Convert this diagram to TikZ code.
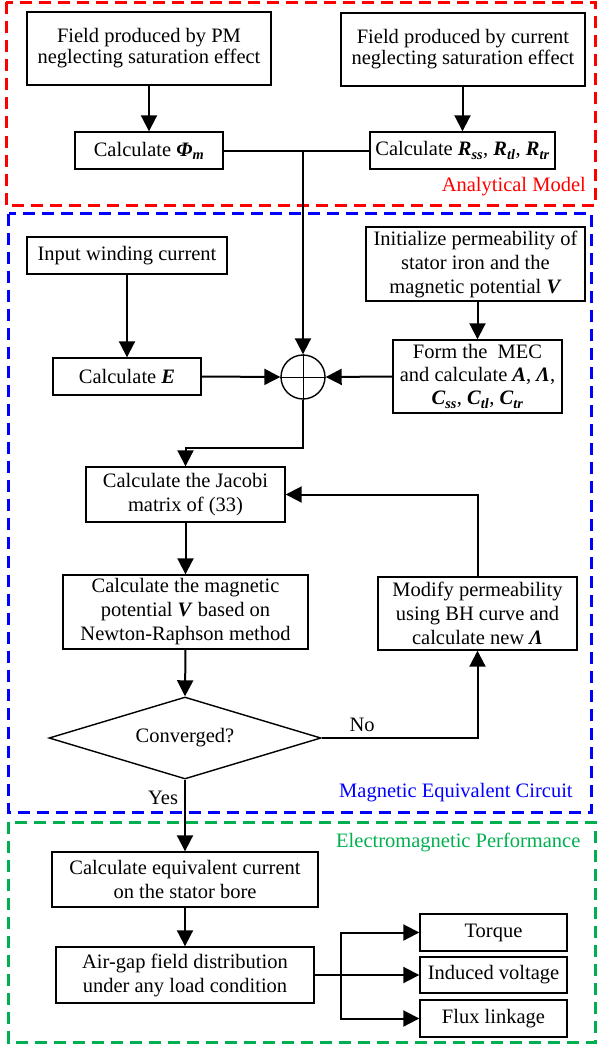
\documentclass[tikz,border=0pt]{standalone}
\usepackage{fontspec}
\setmainfont{Liberation Serif}
\usetikzlibrary{arrows.meta,shapes.geometric}
\definecolor{mred}{RGB}{255,0,0}
\definecolor{mblue}{RGB}{0,0,255}
\definecolor{mgreen}{RGB}{0,176,80}
\newcommand{\bi}[1]{\textbf{\textit{#1}}}
\begin{document}
\begin{tikzpicture}[x=1pt,y=-1pt,
  box/.style={draw, line width=1.4pt, align=center, inner sep=0pt, font=\fontsize{20.5}{24}\selectfont},
  conn/.style={line width=2pt, -{Triangle[length=16pt,width=16pt]}},
  plain/.style={line width=2pt},
  region/.style={line width=3pt, dash pattern=on 12pt off 7pt},
  lbl/.style={font=\fontsize{20.5}{24}\selectfont, inner sep=0pt}]
\useasboundingbox (0,0) rectangle (598,1046);

% regions
\draw[region, mred] (6,2.5) rectangle (595,205.5);
\draw[region, mblue] (8.5,213.5) rectangle (591,812.5);
\draw[region, mgreen] (8.5,822) rectangle (595,1042.5);
\node[lbl, text=mred, anchor=east] (lan) at (586,187) {Analytical Model};
\node[lbl, text=mblue, anchor=west] (lmec) at (339,793) {Magnetic Equivalent Circuit};
\node[lbl, text=mgreen, anchor=west] (lemp) at (336,842) {Electromagnetic Performance};

% analytical model
\node[box, minimum width=244pt, minimum height=73pt, font=\fontsize{20.5}{21}\selectfont] (fpm) at (149,48.5) {Field produced by PM\\neglecting saturation effect};
\node[box, minimum width=244pt, minimum height=73pt, font=\fontsize{20.5}{21}\selectfont] (fcur) at (463,49.5) {Field produced by current\\neglecting saturation effect};
\node[box, minimum width=148pt, minimum height=37pt] (cphi) at (149,150.5) {Calculate \bi{Φ\textsubscript{m}}};
\node[box, minimum width=185pt, minimum height=37pt] (crss) at (462.5,150.5) {Calculate \bi{R\textsubscript{ss}}, \bi{R\textsubscript{tl}}, \bi{R\textsubscript{tr}}};

% MEC
\node[box, minimum width=200pt, minimum height=37pt] (inp) at (127,255.5) {Input winding current};
\node[box, minimum width=148pt, minimum height=37pt] (ce) at (127,376.5) {Calculate \bi{E}};
\node[box, minimum width=219pt, minimum height=74pt] (init) at (475.5,264) {Initialize permeability of\\stator iron and the\\magnetic potential \bi{V}};
\node[box, minimum width=169pt, minimum height=73pt, font=\fontsize{20.5}{23}\selectfont] (mec) at (477.5,376.5) {Form the~~MEC\\and calculate \bi{A}, \bi{Λ},\\\bi{C\textsubscript{ss}}, \bi{C\textsubscript{tl}}, \bi{C\textsubscript{tr}}};
\node[draw, circle, line width=1.4pt, minimum size=44pt, inner sep=0pt] (sum) at (303,377) {};
\draw[line width=1pt] (sum.north) -- (sum.south) (sum.west) -- (sum.east);
\node[box, minimum width=199pt, minimum height=55pt] (jac) at (185.5,494.5) {Calculate the Jacobi\\matrix of (33)};
\node[box, minimum width=245pt, minimum height=74pt] (newt) at (185.5,612) {Calculate the magnetic\\potential \bi{V} based on\\Newton-Raphson method};
\node[box, diamond, aspect=3.3, minimum width=272pt, minimum height=82pt] (conv) at (185,738) {Converged?};
\node[box, minimum width=199pt, minimum height=73pt] (mod) at (477.5,613.5) {Modify permeability\\using BH curve and\\calculate new \bi{Λ}};

% EMP
\node[box, minimum width=266pt, minimum height=55pt] (eqc) at (185,879.5) {Calculate equivalent current\\on the stator bore};
\node[box, minimum width=258pt, minimum height=56pt] (air) at (185,975) {Air-gap field distribution\\under any load condition};
\node[box, minimum width=147pt, minimum height=37pt] (torque) at (493.5,932.5) {Torque};
\node[box, minimum width=147pt, minimum height=36pt] (ind) at (493.5,975) {Induced voltage};
\node[box, minimum width=147pt, minimum height=37pt] (flux) at (493.5,1018.5) {Flux linkage};

% connectors
\coordinate (j1) at (303,150.5);
\coordinate (br) at (341,975);
\draw[conn] (fpm.south) -- (cphi.north);
\draw[conn] (fcur.south -| crss.north) -- (crss.north);
\draw[plain] (cphi.east) -- (j1);
\draw[plain] (crss.west) -- (j1);
\draw[conn] (j1) -- (sum.north);
\draw[conn] (inp.south) -- (ce.north);
\draw[conn] (ce.east) -- (sum.west);
\draw[conn] (init.south -| mec.north) -- (mec.north);
\draw[conn] (mec.west) -- (sum.east);
\draw[conn] (sum.south) -- ++(0,48) -| (jac.north);
\draw[conn] (jac.south) -- (newt.north);
\draw[conn] (newt.south) -- (conv.north);
\draw[conn] (conv.east) -| node[lbl, pos=0.13, above=5pt] {No} (mod.south);
\draw[conn] (mod.north) |- (jac.east);
\draw[conn] (conv.south) -- node[lbl, pos=0.25, left=6pt] {Yes} (eqc.north);
\draw[conn] (eqc.south) -- (air.north);
\draw[plain] (air.east) -- (br);
\draw[conn] (br) |- (torque.west);
\draw[conn] (br) -- (ind.west);
\draw[conn] (br) |- (flux.west);
\end{tikzpicture}
\end{document}
